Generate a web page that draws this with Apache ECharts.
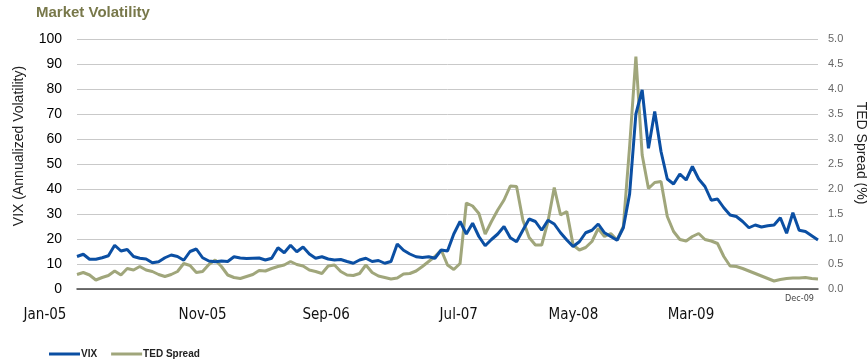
<!DOCTYPE html>
<html><head><meta charset="utf-8">
<script src="https://cdn.jsdelivr.net/npm/echarts@6/dist/echarts.min.js"></script>
<style>html,body{margin:0;padding:0;background:#fff}#c{width:867px;height:362px}</style>
</head><body><div id="c"></div>
<script>
// Semi-monthly observation dates, Jan-2005 .. Dec-2009
const dates = [
 '2005-01-01','2005-01-15','2005-02-01','2005-02-15','2005-03-01','2005-03-15','2005-04-01','2005-04-15','2005-05-01','2005-05-15','2005-06-01','2005-06-15',
 '2005-07-01','2005-07-15','2005-08-01','2005-08-15','2005-09-01','2005-09-15','2005-10-01','2005-10-15','2005-11-01','2005-11-15','2005-12-01','2005-12-15',
 '2006-01-01','2006-01-15','2006-02-01','2006-02-15','2006-03-01','2006-03-15','2006-04-01','2006-04-15','2006-05-01','2006-05-15','2006-06-01','2006-06-15',
 '2006-07-01','2006-07-15','2006-08-01','2006-08-15','2006-09-01','2006-09-15','2006-10-01','2006-10-15','2006-11-01','2006-11-15','2006-12-01','2006-12-15',
 '2007-01-01','2007-01-15','2007-02-01','2007-02-15','2007-03-01','2007-03-15','2007-04-01','2007-04-15','2007-05-01','2007-05-15','2007-06-01','2007-06-15',
 '2007-07-01','2007-07-15','2007-08-01','2007-08-15','2007-09-01','2007-09-15','2007-10-01','2007-10-15','2007-11-01','2007-11-15','2007-12-01','2007-12-15',
 '2008-01-01','2008-01-15','2008-02-01','2008-02-15','2008-03-01','2008-03-15','2008-04-01','2008-04-15','2008-05-01','2008-05-15','2008-06-01','2008-06-15',
 '2008-07-01','2008-07-15','2008-08-01','2008-08-15','2008-09-01','2008-09-15','2008-10-01','2008-10-15','2008-11-01','2008-11-15','2008-12-01','2008-12-15',
 '2009-01-01','2009-01-15','2009-02-01','2009-02-15','2009-03-01','2009-03-15','2009-04-01','2009-04-15','2009-05-01','2009-05-15','2009-06-01','2009-06-15',
 '2009-07-01','2009-07-15','2009-08-01','2009-08-15','2009-09-01','2009-09-15','2009-10-01','2009-10-15','2009-11-01','2009-11-15','2009-12-01'
];
// VIX (annualized volatility)
const vix = [
 13.0,13.9,11.9,11.9,12.5,13.3,17.5,15.2,15.8,13.0,12.3,12.0,
 10.5,10.9,12.5,13.6,13.0,11.5,15.0,16.0,12.5,11.2,10.9,11.2,
 11.0,12.9,12.4,12.2,12.3,12.4,11.6,12.3,16.5,14.5,17.5,14.9,
 16.8,14.0,12.3,12.9,12.0,11.6,11.8,11.0,10.3,11.6,12.3,11.0,
 11.4,10.3,11.0,18.0,15.5,14.0,12.9,12.6,12.9,12.3,15.6,15.2,
 22.0,27.0,22.0,26.3,21.0,17.3,19.8,22.0,25.0,20.5,18.9,23.5,
 28.0,27.0,23.5,27.5,26.0,22.5,19.6,17.0,18.9,22.5,23.5,26.0,
 22.5,21.0,19.5,24.5,38.0,70.0,79.6,56.3,71.0,55.0,44.0,42.0,
 46.0,43.6,49.0,44.0,41.0,35.5,36.0,32.5,29.6,29.0,27.0,24.5,
 25.6,24.8,25.3,25.6,28.5,22.3,30.5,23.5,23.0,21.3,19.6
];
// TED spread (%)
const ted = [
 0.29,0.33,0.28,0.18,0.23,0.27,0.36,0.28,0.41,0.38,0.45,0.38,
 0.35,0.29,0.25,0.29,0.35,0.51,0.47,0.33,0.35,0.49,0.58,0.45,
 0.28,0.23,0.21,0.25,0.29,0.37,0.36,0.41,0.45,0.48,0.55,0.49,
 0.46,0.38,0.35,0.31,0.46,0.48,0.35,0.28,0.27,0.31,0.48,0.33,
 0.26,0.23,0.20,0.22,0.30,0.31,0.36,0.45,0.55,0.65,0.78,0.48,
 0.39,0.51,1.72,1.66,1.51,1.10,1.35,1.58,1.78,2.06,2.05,1.38,
 1.03,0.88,0.88,1.35,2.03,1.48,1.55,0.88,0.78,0.83,0.95,1.21,
 1.05,1.11,0.98,1.25,2.85,4.65,2.68,2.01,2.13,2.15,1.45,1.15,
 0.99,0.96,1.05,1.11,0.99,0.96,0.91,0.65,0.46,0.45,0.41,0.36,
 0.31,0.26,0.21,0.16,0.19,0.21,0.22,0.22,0.23,0.21,0.20
];
const xTickIndex = [0, 20, 40, 60, 80, 100];
const xTickLabels = ['Jan-05', 'Nov-05', 'Sep-06', 'Jul-07', 'May-08', 'Mar-09'];
const endIndex = 118;
const endLabel = 'Dec-09';
const vixAxis = { min: 0, max: 100, interval: 10 };
const tedAxis = { min: 0, max: 5, interval: 0.5 };

const labelPad = [[0,64,0,0],[0,0,0,0],[0,4,0,0],[0,0,0,10],[0,12,0,0],[0,28,0,0]];
const rich = {};
labelPad.forEach((p, k) => { rich['s' + k] = { padding: p, fontSize: 15, color: '#111', fontFamily: "'Liberation Sans Narrow','DejaVu Sans Condensed',sans-serif" }; });

const chart = echarts.init(document.getElementById('c'));
chart.setOption({
  animation: false,
  backgroundColor: '#fff',
  title: {
    text: 'Market Volatility', left: 36, top: 5, padding: 0,
    textStyle: { fontFamily: 'Liberation Sans', fontWeight: 'bold', fontSize: 15, color: '#78784a' }
  },
  legend: {
    left: 44, top: 344, itemWidth: 31, itemHeight: 3, itemGap: 14, icon: 'rect',
    textStyle: { fontFamily: 'Liberation Sans', fontSize: 10, fontWeight: 'bold', color: '#222', padding: [0,0,0,-4] },
    data: ['VIX', 'TED Spread']
  },
  grid: { left: 77, right: 49, top: 39, bottom: 73, containLabel: false, outerBoundsMode: 'none' },
  xAxis: [{
    type: 'category', data: dates, boundaryGap: false,
    axisLine: { lineStyle: { color: '#444', width: 1.5 } },
    axisTick: { show: false },
    axisLabel: {
      interval: (idx) => xTickIndex.includes(idx),
      margin: 19,
      formatter: (v, idx) => { const k = xTickIndex.indexOf(idx); return '{s' + k + '|' + xTickLabels[k] + '}'; },
      rich: rich
    },
    splitLine: { show: false }
  }, {
    type: 'category', data: dates, boundaryGap: false, position: 'bottom',
    axisLine: { show: false }, axisTick: { show: false },
    axisLabel: {
      interval: (idx) => idx === endIndex,
      formatter: () => endLabel,
      margin: 5, fontSize: 9, color: '#444', align: 'right', padding: [0,4,0,0],
      fontFamily: "'Liberation Sans Narrow','DejaVu Sans Condensed',sans-serif"
    },
    splitLine: { show: false }
  }],
  yAxis: [{
    type: 'value', min: vixAxis.min, max: vixAxis.max, interval: vixAxis.interval,
    name: 'VIX (Annualized Volatility)', nameLocation: 'middle', nameGap: 51,
    nameTextStyle: { fontFamily: 'Liberation Sans', fontSize: 14, color: '#222', padding: [0,0,0,36] },
    axisLine: { show: false }, axisTick: { show: false },
    axisLabel: { margin: 15, fontFamily: 'Liberation Sans', fontSize: 14, color: '#000' },
    splitLine: { lineStyle: { color: '#c9c9c9', width: 1 } }
  }, {
    type: 'value', min: tedAxis.min, max: tedAxis.max, interval: tedAxis.interval, position: 'right',
    name: 'TED Spread (%)', nameLocation: 'middle', nameGap: 29, nameRotate: -90,
    nameTextStyle: { fontFamily: 'Liberation Sans', fontSize: 14, color: '#222', padding: [0,22,0,0] },
    axisLine: { show: false }, axisTick: { show: false },
    axisLabel: { margin: 10, fontFamily: 'Liberation Sans', fontSize: 11, color: '#666', formatter: (v) => v.toFixed(1) },
    splitLine: { show: false }
  }],
  series: [{
    name: 'VIX', type: 'line', data: vix, xAxisIndex: 0, yAxisIndex: 0,
    symbol: 'none', lineStyle: { color: '#0b4fa3', width: 3 }, itemStyle: { color: '#0b4fa3' }, z: 3
  }, {
    name: 'TED Spread', type: 'line', data: ted, xAxisIndex: 0, yAxisIndex: 1,
    symbol: 'none', lineStyle: { color: '#a0a67b', width: 3 }, itemStyle: { color: '#a0a67b' }, z: 2
  }]
});
</script>
</body></html>
